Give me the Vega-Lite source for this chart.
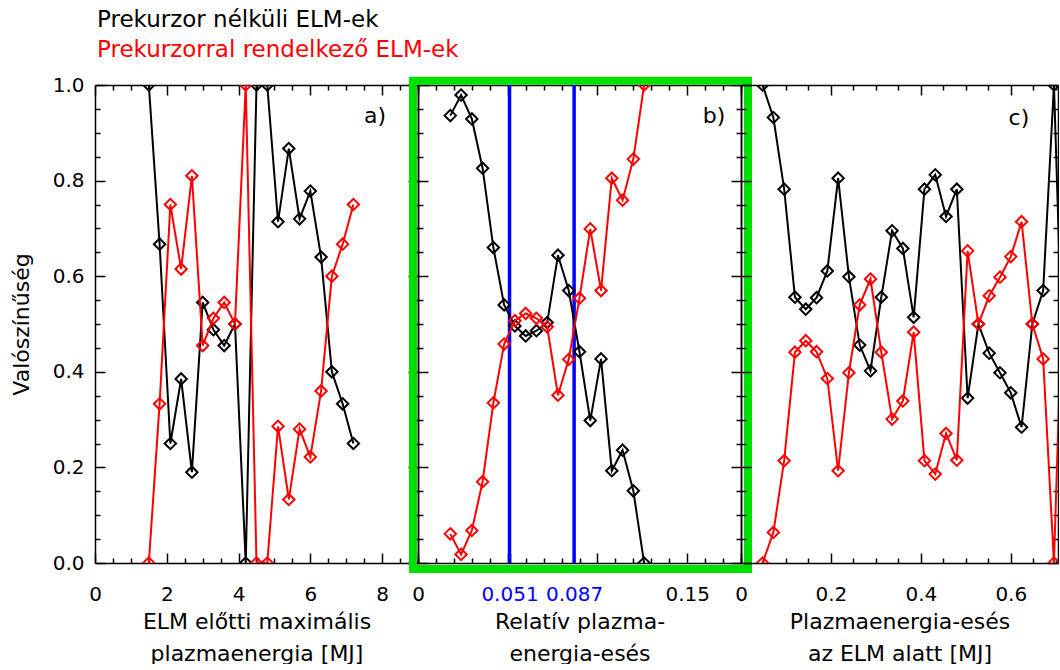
{
  "$schema": "https://vega.github.io/schema/vega-lite/v6.json",
  "padding": {"left": 10, "top": 9, "right": 0, "bottom": 0},
  "background": "white",
  "title": {
    "text": "Prekurzor nélküli ELM-ek",
    "subtitle": "Prekurzorral rendelkező ELM-ek",
    "anchor": "start",
    "frame": "group",
    "font": "DejaVu Sans",
    "fontSize": 23,
    "fontWeight": "normal",
    "color": "#000000",
    "subtitleFont": "DejaVu Sans",
    "subtitleFontSize": 23,
    "subtitleColor": "#ff0000",
    "subtitlePadding": 7,
    "dx": 2,
    "offset": 13
  },
  "spacing": 0,
  "bounds": "flush",
  "config": {
    "font": "DejaVu Sans",
    "view": {"stroke": null},
    "axis": {
      "grid": false,
      "domainColor": "#000000",
      "domainWidth": 1.5,
      "tickColor": "#000000",
      "tickWidth": 1.5,
      "labelColor": "#000000",
      "labelFont": "DejaVu Sans",
      "labelFontSize": 20,
      "labelFlush": false,
      "labelOverlap": false,
      "titleFont": "DejaVu Sans",
      "titleFontSize": 22,
      "titleFontWeight": "normal",
      "titleColor": "#000000"
    }
  },
  "datasets": {
    "a": [
      {"s": "n", "x": 1.5, "y": 1.0}, {"s": "n", "x": 1.8, "y": 0.667}, {"s": "n", "x": 2.1, "y": 0.25}, {"s": "n", "x": 2.4, "y": 0.385},
      {"s": "n", "x": 2.7, "y": 0.19}, {"s": "n", "x": 3.0, "y": 0.545}, {"s": "n", "x": 3.3, "y": 0.488}, {"s": "n", "x": 3.6, "y": 0.455},
      {"s": "n", "x": 3.9, "y": 0.5}, {"s": "n", "x": 4.2, "y": 0.0}, {"s": "n", "x": 4.5, "y": 1.0}, {"s": "n", "x": 4.8, "y": 1.0},
      {"s": "n", "x": 5.1, "y": 0.714}, {"s": "n", "x": 5.4, "y": 0.867}, {"s": "n", "x": 5.7, "y": 0.72}, {"s": "n", "x": 6.0, "y": 0.778},
      {"s": "n", "x": 6.3, "y": 0.64}, {"s": "n", "x": 6.6, "y": 0.4}, {"s": "n", "x": 6.9, "y": 0.333}, {"s": "n", "x": 7.2, "y": 0.25},
      {"s": "r", "x": 1.5, "y": 0.0}, {"s": "r", "x": 1.8, "y": 0.333}, {"s": "r", "x": 2.1, "y": 0.75}, {"s": "r", "x": 2.4, "y": 0.615},
      {"s": "r", "x": 2.7, "y": 0.81}, {"s": "r", "x": 3.0, "y": 0.455}, {"s": "r", "x": 3.3, "y": 0.512}, {"s": "r", "x": 3.6, "y": 0.545},
      {"s": "r", "x": 3.9, "y": 0.5}, {"s": "r", "x": 4.2, "y": 1.0}, {"s": "r", "x": 4.5, "y": 0.0}, {"s": "r", "x": 4.8, "y": 0.0},
      {"s": "r", "x": 5.1, "y": 0.286}, {"s": "r", "x": 5.4, "y": 0.133}, {"s": "r", "x": 5.7, "y": 0.28}, {"s": "r", "x": 6.0, "y": 0.222},
      {"s": "r", "x": 6.3, "y": 0.36}, {"s": "r", "x": 6.6, "y": 0.6}, {"s": "r", "x": 6.9, "y": 0.667}, {"s": "r", "x": 7.2, "y": 0.75}
    ],
    "b": [
      {"s": "n", "x": 0.018, "y": 0.936}, {"s": "n", "x": 0.024, "y": 0.979}, {"s": "n", "x": 0.030, "y": 0.929}, {"s": "n", "x": 0.036, "y": 0.826},
      {"s": "n", "x": 0.042, "y": 0.66}, {"s": "n", "x": 0.048, "y": 0.54}, {"s": "n", "x": 0.054, "y": 0.496}, {"s": "n", "x": 0.060, "y": 0.475},
      {"s": "n", "x": 0.066, "y": 0.486}, {"s": "n", "x": 0.072, "y": 0.503}, {"s": "n", "x": 0.078, "y": 0.644}, {"s": "n", "x": 0.084, "y": 0.57},
      {"s": "n", "x": 0.090, "y": 0.442}, {"s": "n", "x": 0.096, "y": 0.298}, {"s": "n", "x": 0.102, "y": 0.427}, {"s": "n", "x": 0.108, "y": 0.193},
      {"s": "n", "x": 0.114, "y": 0.236}, {"s": "n", "x": 0.120, "y": 0.151}, {"s": "n", "x": 0.126, "y": 0.0},
      {"s": "r", "x": 0.018, "y": 0.061}, {"s": "r", "x": 0.024, "y": 0.018}, {"s": "r", "x": 0.030, "y": 0.068}, {"s": "r", "x": 0.036, "y": 0.17},
      {"s": "r", "x": 0.042, "y": 0.335}, {"s": "r", "x": 0.048, "y": 0.458}, {"s": "r", "x": 0.054, "y": 0.507}, {"s": "r", "x": 0.060, "y": 0.522},
      {"s": "r", "x": 0.066, "y": 0.512}, {"s": "r", "x": 0.072, "y": 0.494}, {"s": "r", "x": 0.078, "y": 0.351}, {"s": "r", "x": 0.084, "y": 0.426},
      {"s": "r", "x": 0.090, "y": 0.554}, {"s": "r", "x": 0.096, "y": 0.699}, {"s": "r", "x": 0.102, "y": 0.57}, {"s": "r", "x": 0.108, "y": 0.805},
      {"s": "r", "x": 0.114, "y": 0.759}, {"s": "r", "x": 0.120, "y": 0.845}, {"s": "r", "x": 0.126, "y": 1.0}
    ],
    "cuts": [{"x": 0.051}, {"x": 0.087}],
    "one": [{}],
    "c": [
      {"s": "n", "x": 0.048, "y": 1.0}, {"s": "n", "x": 0.072, "y": 0.932}, {"s": "n", "x": 0.096, "y": 0.782}, {"s": "n", "x": 0.12, "y": 0.556},
      {"s": "n", "x": 0.144, "y": 0.531}, {"s": "n", "x": 0.168, "y": 0.555}, {"s": "n", "x": 0.192, "y": 0.611}, {"s": "n", "x": 0.216, "y": 0.805},
      {"s": "n", "x": 0.24, "y": 0.599}, {"s": "n", "x": 0.264, "y": 0.456}, {"s": "n", "x": 0.288, "y": 0.402}, {"s": "n", "x": 0.312, "y": 0.556},
      {"s": "n", "x": 0.336, "y": 0.695}, {"s": "n", "x": 0.36, "y": 0.658}, {"s": "n", "x": 0.384, "y": 0.514}, {"s": "n", "x": 0.408, "y": 0.782},
      {"s": "n", "x": 0.432, "y": 0.812}, {"s": "n", "x": 0.456, "y": 0.725}, {"s": "n", "x": 0.48, "y": 0.782}, {"s": "n", "x": 0.504, "y": 0.345},
      {"s": "n", "x": 0.528, "y": 0.5}, {"s": "n", "x": 0.552, "y": 0.439}, {"s": "n", "x": 0.576, "y": 0.398}, {"s": "n", "x": 0.6, "y": 0.356},
      {"s": "n", "x": 0.624, "y": 0.284}, {"s": "n", "x": 0.648, "y": 0.5}, {"s": "n", "x": 0.672, "y": 0.57}, {"s": "n", "x": 0.696, "y": 1.0},
      {"s": "n", "x": 0.72, "y": 0.28},
      {"s": "r", "x": 0.048, "y": 0.0}, {"s": "r", "x": 0.072, "y": 0.064}, {"s": "r", "x": 0.096, "y": 0.214}, {"s": "r", "x": 0.12, "y": 0.441},
      {"s": "r", "x": 0.144, "y": 0.465}, {"s": "r", "x": 0.168, "y": 0.442}, {"s": "r", "x": 0.192, "y": 0.386}, {"s": "r", "x": 0.216, "y": 0.193},
      {"s": "r", "x": 0.24, "y": 0.398}, {"s": "r", "x": 0.264, "y": 0.54}, {"s": "r", "x": 0.288, "y": 0.594}, {"s": "r", "x": 0.312, "y": 0.441},
      {"s": "r", "x": 0.336, "y": 0.301}, {"s": "r", "x": 0.36, "y": 0.339}, {"s": "r", "x": 0.384, "y": 0.483}, {"s": "r", "x": 0.408, "y": 0.214},
      {"s": "r", "x": 0.432, "y": 0.186}, {"s": "r", "x": 0.456, "y": 0.271}, {"s": "r", "x": 0.48, "y": 0.215}, {"s": "r", "x": 0.504, "y": 0.653},
      {"s": "r", "x": 0.528, "y": 0.5}, {"s": "r", "x": 0.552, "y": 0.559}, {"s": "r", "x": 0.576, "y": 0.598}, {"s": "r", "x": 0.6, "y": 0.641},
      {"s": "r", "x": 0.624, "y": 0.714}, {"s": "r", "x": 0.648, "y": 0.5}, {"s": "r", "x": 0.672, "y": 0.427}, {"s": "r", "x": 0.696, "y": 0.0},
      {"s": "r", "x": 0.72, "y": 0.72}
    ]
  },
  "hconcat": [
    {
      "width": 323,
      "height": 478,
      "data": {"name": "a"},
      "layer": [
        {
          "transform": [{"filter": "datum.s == 'n'"}],
          "mark": {"type": "line", "color": "#000000", "strokeWidth": 2, "clip": true,
                   "point": {"shape": "diamond", "filled": false, "size": 130, "strokeWidth": 2, "color": "#000000", "clip": true}},
          "encoding": {
            "x": {"field": "x", "type": "quantitative", "scale": {"domain": [0, 9], "nice": false, "zero": false},
                  "axis": {"orient": "bottom", "values": [0,0.5,1,1.5,2,2.5,3,3.5,4,4.5,5,5.5,6,6.5,7,7.5,8,8.5,9],
                           "labelExpr": "datum.value % 2 == 0 ? format(datum.value, 'd') : ''",
                           "tickSize": {"condition": {"test": "datum.value % 2 == 0", "value": -10}, "value": -5},
                           "labelPadding": 31,
                           "title": ["ELM előtti maximális", "plazmaenergia [MJ]"], "titleLineHeight": 32, "titlePadding": 2}},
            "y": {"field": "y", "type": "quantitative", "scale": {"domain": [0, 1], "nice": false, "zero": false},
                  "axis": {"orient": "left", "values": [0,0.05,0.1,0.15,0.2,0.25,0.3,0.35,0.4,0.45,0.5,0.55,0.6,0.65,0.7,0.75,0.8,0.85,0.9,0.95,1],
                           "labelExpr": "indexof([0,0.2,0.4,0.6,0.8,1], datum.value) >= 0 ? format(datum.value, '.1f') : ''",
                           "tickSize": {"condition": {"test": "indexof([0,0.2,0.4,0.6,0.8,1], datum.value) >= 0", "value": -10}, "value": -5},
                           "labelPadding": 21,
                           "title": "Valószínűség", "titleFontSize": 22, "titlePadding": 19}}
          }
        },
        {
          "transform": [{"filter": "datum.s == 'r'"}],
          "mark": {"type": "line", "color": "#ff0000", "strokeWidth": 2, "clip": true,
                   "point": {"shape": "diamond", "filled": false, "size": 130, "strokeWidth": 2, "color": "#ff0000", "clip": true}},
          "encoding": {
            "x": {"field": "x", "type": "quantitative",
                  "axis": {"orient": "top", "values": [0,0.5,1,1.5,2,2.5,3,3.5,4,4.5,5,5.5,6,6.5,7,7.5,8,8.5,9], "labels": false, "title": null,
                           "tickSize": {"condition": {"test": "datum.value % 2 == 0", "value": -10}, "value": -5}}},
            "y": {"field": "y", "type": "quantitative",
                  "axis": {"orient": "right", "values": [0,0.05,0.1,0.15,0.2,0.25,0.3,0.35,0.4,0.45,0.5,0.55,0.6,0.65,0.7,0.75,0.8,0.85,0.9,0.95,1], "labels": false, "title": null,
                           "tickSize": {"condition": {"test": "indexof([0,0.2,0.4,0.6,0.8,1], datum.value) >= 0", "value": -10}, "value": -5}}}
          }
        },
        {
          "data": {"name": "one"},
          "mark": {"type": "text", "font": "DejaVu Sans", "fontSize": 22, "color": "#000000", "align": "center", "baseline": "middle"},
          "encoding": {
            "x": {"datum": 7.8, "type": "quantitative", "axis": null},
            "y": {"datum": 0.935, "type": "quantitative", "axis": null},
            "text": {"value": "a)"}
          }
        }
      ]
    },
    {
      "width": 323,
      "height": 478,
      "data": {"name": "b"},
      "layer": [
        {
          "data": {"name": "cuts"},
          "mark": {"type": "rule", "color": "#0000ff", "strokeWidth": 3.5},
          "encoding": {"x": {"field": "x", "type": "quantitative", "axis": null}}
        },
        {
          "transform": [{"filter": "datum.s == 'n'"}],
          "mark": {"type": "line", "color": "#000000", "strokeWidth": 2, "clip": true,
                   "point": {"shape": "diamond", "filled": false, "size": 130, "strokeWidth": 2, "color": "#000000", "clip": true}},
          "encoding": {
            "x": {"field": "x", "type": "quantitative", "scale": {"domain": [0, 0.18], "nice": false, "zero": false},
                  "axis": {"orient": "bottom", "values": [0,0.01,0.02,0.03,0.04,0.05,0.06,0.07,0.08,0.09,0.1,0.11,0.12,0.13,0.14,0.15,0.16,0.17,0.18,0.051,0.087],
                           "labelExpr": "datum.value == 0 ? '0' : datum.value == 0.051 ? '0.051' : datum.value == 0.087 ? '0.087' : datum.value == 0.15 ? '0.15' : ''",
                           "labelColor": {"condition": {"test": "datum.value == 0.051 || datum.value == 0.087", "value": "#0000ff"}, "value": "#000000"},
                           "tickSize": {"condition": {"test": "indexof([0,0.05,0.1,0.15,0.051,0.087], datum.value) >= 0", "value": -10}, "value": -5},
                           "labelPadding": 31,
                           "title": ["Relatív plazma-", "energia-esés"], "titleLineHeight": 32, "titlePadding": 2}},
            "y": {"field": "y", "type": "quantitative", "scale": {"domain": [0, 1], "nice": false, "zero": false},
                  "axis": {"orient": "left", "values": [0,0.05,0.1,0.15,0.2,0.25,0.3,0.35,0.4,0.45,0.5,0.55,0.6,0.65,0.7,0.75,0.8,0.85,0.9,0.95,1], "labels": false, "title": null,
                           "tickSize": {"condition": {"test": "indexof([0,0.2,0.4,0.6,0.8,1], datum.value) >= 0", "value": -10}, "value": -5}}}
          }
        },
        {
          "transform": [{"filter": "datum.s == 'r'"}],
          "mark": {"type": "line", "color": "#ff0000", "strokeWidth": 2, "clip": true,
                   "point": {"shape": "diamond", "filled": false, "size": 130, "strokeWidth": 2, "color": "#ff0000", "clip": true}},
          "encoding": {
            "x": {"field": "x", "type": "quantitative",
                  "axis": {"orient": "top", "values": [0,0.01,0.02,0.03,0.04,0.05,0.06,0.07,0.08,0.09,0.1,0.11,0.12,0.13,0.14,0.15,0.16,0.17,0.18], "labels": false, "title": null,
                           "tickSize": {"condition": {"test": "indexof([0,0.05,0.1,0.15], datum.value) >= 0", "value": -10}, "value": -5}}},
            "y": {"field": "y", "type": "quantitative",
                  "axis": {"orient": "right", "values": [0,0.05,0.1,0.15,0.2,0.25,0.3,0.35,0.4,0.45,0.5,0.55,0.6,0.65,0.7,0.75,0.8,0.85,0.9,0.95,1], "labels": false, "title": null,
                           "tickSize": {"condition": {"test": "indexof([0,0.2,0.4,0.6,0.8,1], datum.value) >= 0", "value": -10}, "value": -5}}}
          }
        },
        {
          "data": {"name": "one"},
          "mark": {"type": "text", "font": "DejaVu Sans", "fontSize": 22, "color": "#000000", "align": "center", "baseline": "middle"},
          "encoding": {
            "x": {"datum": 0.165, "type": "quantitative", "axis": null},
            "y": {"datum": 0.935, "type": "quantitative", "axis": null},
            "text": {"value": "b)"}
          }
        },
        {
          "data": {"name": "one"},
          "mark": {"type": "rect", "fill": null, "stroke": "#00e000", "strokeWidth": 8, "clip": false},
          "encoding": {
            "x": {"datum": -0.0028, "type": "quantitative", "axis": null},
            "x2": {"datum": 0.1839},
            "y": {"datum": 1.009, "type": "quantitative", "axis": null},
            "y2": {"datum": -0.0125}
          }
        }
      ]
    },
    {
      "width": 317,
      "height": 478,
      "data": {"name": "c"},
      "layer": [
        {
          "transform": [{"filter": "datum.s == 'n'"}],
          "mark": {"type": "line", "color": "#000000", "strokeWidth": 2, "clip": true,
                   "point": {"shape": "diamond", "filled": false, "size": 130, "strokeWidth": 2, "color": "#000000", "clip": true}},
          "encoding": {
            "x": {"field": "x", "type": "quantitative", "scale": {"domain": [0, 0.705], "nice": false, "zero": false},
                  "axis": {"orient": "bottom", "values": [0,0.05,0.1,0.15,0.2,0.25,0.3,0.35,0.4,0.45,0.5,0.55,0.6,0.65,0.7],
                           "labelExpr": "datum.value == 0 ? '0' : indexof([0.2,0.4,0.6], datum.value) >= 0 ? format(datum.value, '.1f') : ''",
                           "tickSize": {"condition": {"test": "indexof([0,0.2,0.4,0.6], datum.value) >= 0", "value": -10}, "value": -5},
                           "labelPadding": 31,
                           "title": ["Plazmaenergia-esés", "az ELM alatt [MJ]"], "titleLineHeight": 32, "titlePadding": 2}},
            "y": {"field": "y", "type": "quantitative", "scale": {"domain": [0, 1], "nice": false, "zero": false},
                  "axis": {"orient": "left", "values": [0,0.05,0.1,0.15,0.2,0.25,0.3,0.35,0.4,0.45,0.5,0.55,0.6,0.65,0.7,0.75,0.8,0.85,0.9,0.95,1], "labels": false, "title": null,
                           "tickSize": {"condition": {"test": "indexof([0,0.2,0.4,0.6,0.8,1], datum.value) >= 0", "value": -10}, "value": -5}}}
          }
        },
        {
          "transform": [{"filter": "datum.s == 'r'"}],
          "mark": {"type": "line", "color": "#ff0000", "strokeWidth": 2, "clip": true,
                   "point": {"shape": "diamond", "filled": false, "size": 130, "strokeWidth": 2, "color": "#ff0000", "clip": true}},
          "encoding": {
            "x": {"field": "x", "type": "quantitative",
                  "axis": {"orient": "top", "values": [0,0.05,0.1,0.15,0.2,0.25,0.3,0.35,0.4,0.45,0.5,0.55,0.6,0.65,0.7], "labels": false, "title": null,
                           "tickSize": {"condition": {"test": "indexof([0,0.2,0.4,0.6], datum.value) >= 0", "value": -10}, "value": -5}}},
            "y": {"field": "y", "type": "quantitative",
                  "axis": {"orient": "right", "values": [0,0.05,0.1,0.15,0.2,0.25,0.3,0.35,0.4,0.45,0.5,0.55,0.6,0.65,0.7,0.75,0.8,0.85,0.9,0.95,1], "labels": false, "title": null,
                           "tickSize": {"condition": {"test": "indexof([0,0.2,0.4,0.6,0.8,1], datum.value) >= 0", "value": -10}, "value": -5}}}
          }
        },
        {
          "data": {"name": "one"},
          "mark": {"type": "text", "font": "DejaVu Sans", "fontSize": 22, "color": "#000000", "align": "center", "baseline": "middle"},
          "encoding": {
            "x": {"datum": 0.618, "type": "quantitative", "axis": null},
            "y": {"datum": 0.93, "type": "quantitative", "axis": null},
            "text": {"value": "c)"}
          }
        }
      ]
    }
  ]
}
